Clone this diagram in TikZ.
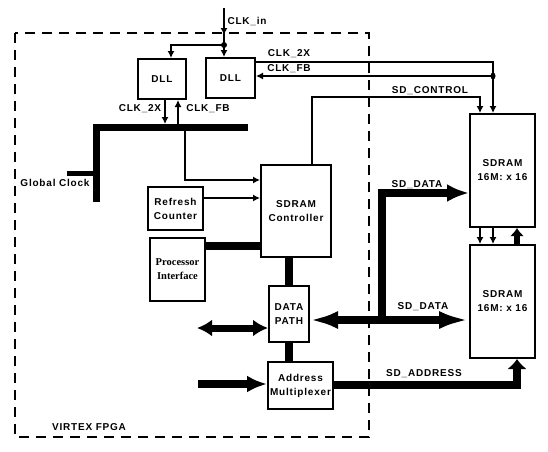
\documentclass[tikz,border=0pt]{standalone}
\usepackage{fontspec}
\setmainfont{Liberation Sans}[LetterSpace=8]
\newfontfamily\procfont{Liberation Serif}
\usetikzlibrary{arrows.meta}
\begin{document}
\begin{tikzpicture}[x=1pt,y=-1pt,
  font=\bfseries\fontsize{10}{14}\selectfont,
  box/.style={draw,line width=2pt,align=center,inner sep=0pt},
  lbl/.style={inner sep=0pt},
  thinline/.style={line width=1.2pt},
  tarrow/.style={-{Latex[length=7pt,width=7pt]}},
  bus/.style={line width=7pt}]
\useasboundingbox (0,0) rectangle (548,451);
% FPGA frame
\draw[line width=2pt,dash pattern=on 10pt off 7pt] (15,33) rectangle (369,437);
% boxes
\node[box,minimum width=48pt,minimum height=40pt] (dll1) at (162,79) {DLL};
\node[box,minimum width=49pt,minimum height=40pt] (dll2) at (230.5,78) {DLL};
\node[box,minimum width=65pt,minimum height=113pt] (sd1) at (502.5,170.5) {SDRAM\\16M: x 16};
\node[box,minimum width=65pt,minimum height=113pt] (sd2) at (502.5,301.5) {SDRAM\\16M: x 16};
\node[box,minimum width=70pt,minimum height=92pt] (ctrl) at (296,211) {SDRAM\\Controller};
\node[box,minimum width=55pt,minimum height=43pt] (ref) at (175.5,208.5) {Refresh\\Counter};
\node[box,minimum width=55pt,minimum height=63pt,font=\procfont\bfseries\fontsize{10.5}{14}\selectfont] (proc) at (177.5,269.5) {Processor\\Interface};
\node[box,minimum width=40pt,minimum height=56pt] (dp) at (289,314) {DATA\\PATH};
\node[box,minimum width=65pt,minimum height=47pt] (amux) at (300.5,385.5) {Address\\Multiplexer};
% helper coordinates
\coordinate (clktop) at (224,8);
\coordinate (clkarr) at (224,35);
\coordinate (dot1) at (224,45);
\coordinate (c2x) at (493,62);
\coordinate (dot2) at (493,76);
\coordinate (sc1) at (312,97);
\coordinate (sc2) at (480,97);
\coordinate (busR) at (248,127);
\coordinate (busC) at (96,127);
\coordinate (busB) at (96,202);
\coordinate (stubL) at (67,173);
\coordinate (stubR) at (96,173);
\coordinate (a2x) at (165,124);
\coordinate (afb) at (178,124);
\coordinate (gc1) at (185,127);
\coordinate (gc2) at (185,180);
\coordinate (rf) at (0,198);
\coordinate (pf) at (0,246);
\coordinate (lda) at (197,328);
\coordinate (ain) at (198,384);
\coordinate (sdy) at (0,320);
\coordinate (j) at (382,320);
\coordinate (jt) at (382,193);
\coordinate (sa) at (517,385);
% clock input
\draw[thinline] (clktop) -- (dot1);
\draw[thinline,tarrow] (clktop) -- (clkarr);
\fill (dot1) circle (3pt);
\draw[thinline,tarrow] (dot1) -- (dll2.north -| dot1);
\draw[thinline,tarrow] (dot1) -| ([xshift=9pt]dll1.north);
% CLK_2X / CLK_FB to SDRAM
\draw[thinline,tarrow] (dll2.east |- c2x) -- (c2x) -- (sd1.north -| c2x);
\draw[thinline,tarrow] (dot2) -- (dll2.east |- dot2);
\fill (dot2) ellipse (2.5pt and 3.5pt);
% SD_CONTROL
\draw[thinline,tarrow] (ctrl.north -| sc1) -- (sc1) -- (sc2) -- (sd1.north -| sc2);
% global clock bus
\draw[bus] (busR) -- (busC) -- (busB);
\draw[line width=5pt] (stubL) -- (stubR);
\draw[thinline,tarrow] (dll1.south -| a2x) -- (a2x);
\draw[thinline,tarrow] (afb) -- (dll1.south -| afb);
\draw[thinline,tarrow] (gc1) -- (gc2) -- (ctrl.west |- gc2);
% refresh / processor
\draw[thinline,tarrow] (ref.east |- rf) -- (ctrl.west |- rf);
\draw[line width=8pt] (proc.east |- pf) -- (ctrl.west |- pf);
% internal data path
\draw[line width=8pt] (ctrl.south -| dp.north) -- (dp.north);
\draw[line width=8pt] (dp.south) -- (amux.north -| dp.south);
\draw[line width=7pt,{Latex[length=15pt,width=17pt]}-{Latex[length=15pt,width=17pt]}] (lda) -- (dp.west |- lda);
\draw[line width=8pt,-{Latex[length=20pt,width=17pt]}] (ain) -- (amux.west |- ain);
% SD_DATA
\draw[line width=8pt,{Latex[length=28pt,width=18pt]}-{Latex[length=30pt,width=18pt]}] (dp.east |- sdy) -- (sd2.west |- sdy);
\draw[line width=8pt,-{Latex[length=22pt,width=18pt]}] (j) -- (jt) -- (sd1.west |- jt);
% SD_ADDRESS
\draw[line width=8pt,-{Latex[length=10pt,width=20pt]}] (amux.east |- sa) -- (sa) -- (sd2.south -| sa);
% between SDRAMs
\draw[thinline,tarrow] (sd1.south -| sc2) -- (sd2.north -| sc2);
\draw[thinline,tarrow] (sd1.south -| c2x) -- (sd2.north -| c2x);
\draw[line width=6pt,-{Latex[length=8pt,width=14pt]}] (sd2.north -| sa) -- (sd1.south -| sa);
% labels
\node[lbl] (lclkin) at (247,21) {CLK\_in};
\node[lbl] (l2xa) at (289,54) {CLK\_2X};
\node[lbl] (lfba) at (289,69) {CLK\_FB};
\node[lbl] (lctl) at (430,91) {SD\_CONTROL};
\node[lbl] (l2xb) at (140,109) {CLK\_2X};
\node[lbl] (lfbb) at (208,109) {CLK\_FB};
\node[lbl] (lgc) at (55,183) {Global Clock};
\node[lbl] (ld1) at (417,185) {SD\_DATA};
\node[lbl] (ld2) at (423,307) {SD\_DATA};
\node[lbl] (lad) at (424,374) {SD\_ADDRESS};
\node[lbl] (lfpga) at (89,427) {VIRTEX FPGA};
\end{tikzpicture}
\end{document}
